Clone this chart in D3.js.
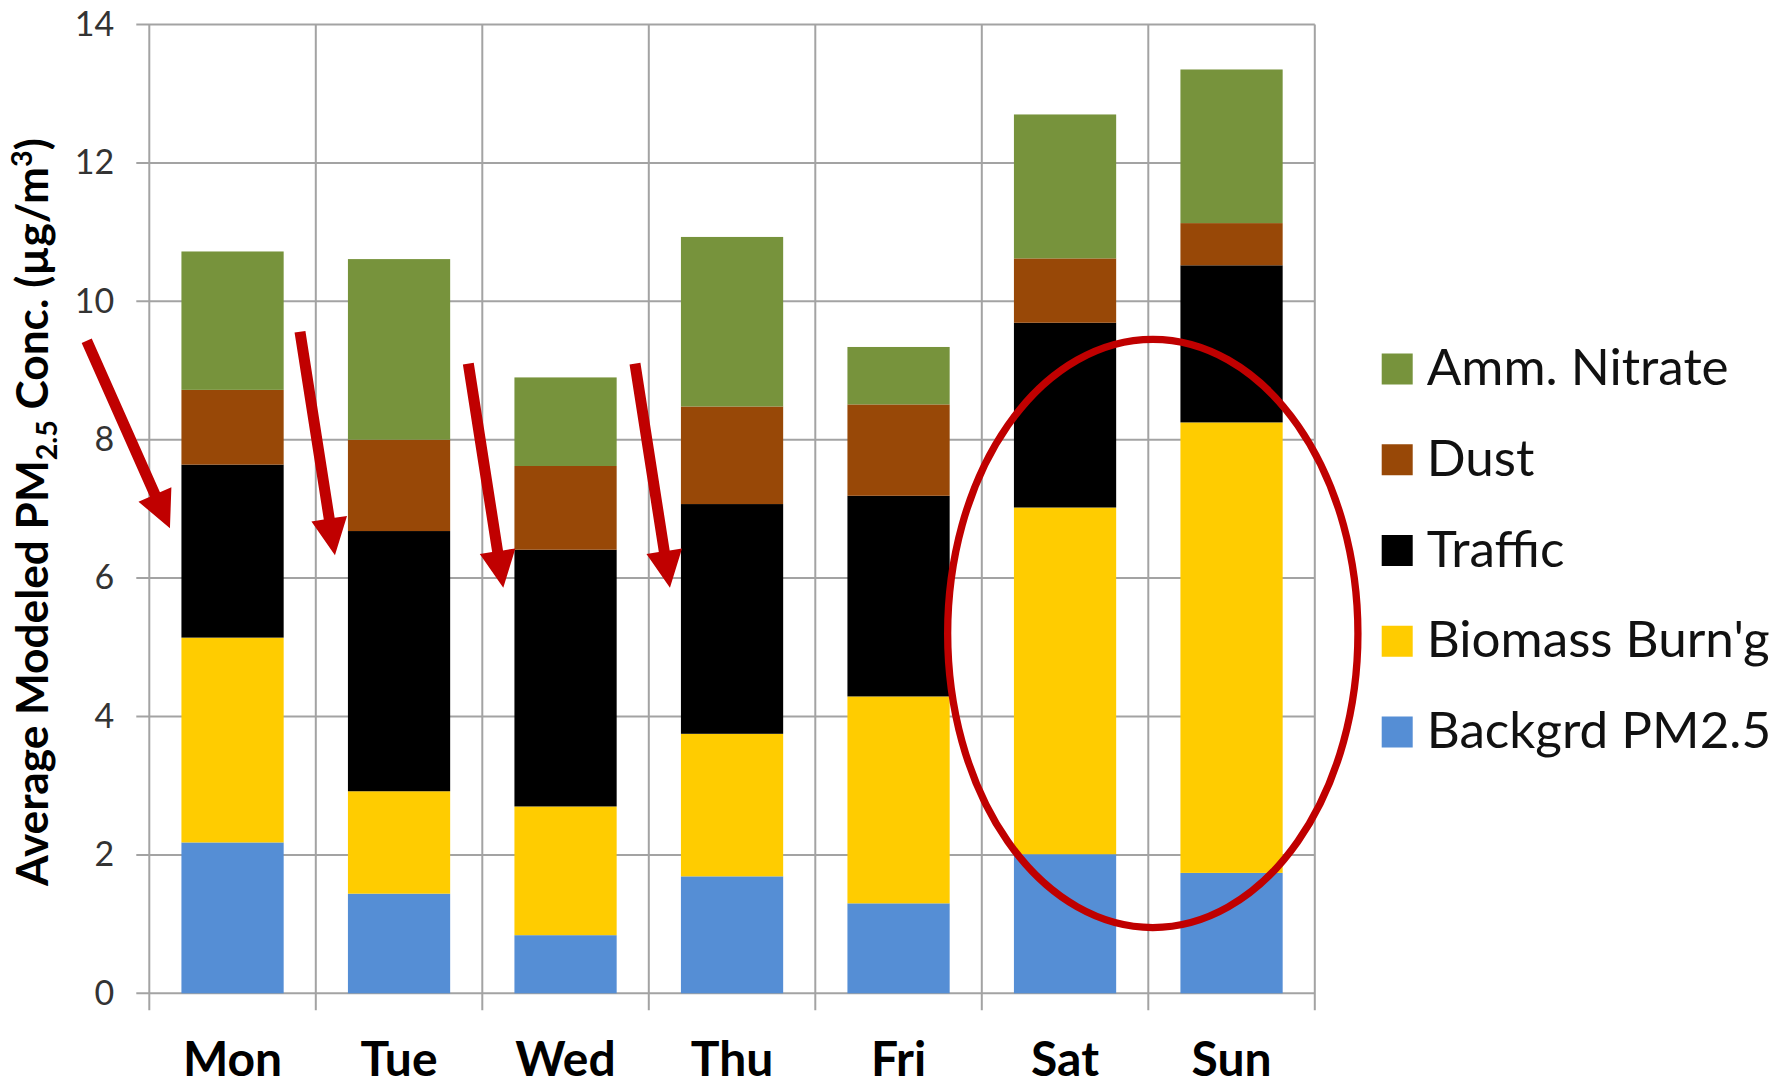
<!DOCTYPE html>
<html><head><meta charset="utf-8">
<script src="https://cdn.jsdelivr.net/npm/d3@7"></script>
<style>
body{margin:0;background:#fff}
svg{display:block}
text{font-family:Lato,"Open Sans","DejaVu Sans",sans-serif}
</style>
</head><body>
<svg id="chart" width="1791" height="1086"></svg>
<script>
// ---- data ----
const days = ["Mon","Tue","Wed","Thu","Fri","Sat","Sun"];
const seriesNames = ["Backgrd PM2.5","Biomass Burn'g","Traffic","Dust","Amm. Nitrate"];
const backgrd    = [2.18,1.44,0.84,1.69,1.30,2.01,1.74];
const biomass    = [2.96,1.48,1.86,2.06,2.99,5.01,6.51];
const traffic    = [2.50,3.76,3.71,3.32,2.90,2.67,2.27];
const dust       = [1.08,1.32,1.21,1.41,1.32,0.93,0.61];
const ammNitrate = [2.00,2.61,1.28,2.45,0.83,2.08,2.22];
const yTicks = [0,2,4,6,8,10,12,14];
// annotation arrows: day index, tail (band offset, value), tip (band offset, value)
const arrowDays  = [0,1,2,3];
const arrowTailB = [-0.376,-0.095,-0.084,-0.083];
const arrowTailV = [9.43,9.56,9.10,9.10];
const arrowTipB  = [0.124,0.115,0.126,0.127];
const arrowTipV  = [6.72,6.33,5.86,5.86];

(function(){
// ---- styles ----
const colors = {"Backgrd PM2.5":"#558ED5","Biomass Burn'g":"#FFCC00","Traffic":"#000000","Dust":"#984807","Amm. Nitrate":"#77933C"};
const gridColor = "#a3a3a3";
const red = "#C00000";

const seriesValues = [backgrd, biomass, traffic, dust, ammNitrate];
const table = days.map((d,i)=>{
  const row = {day:d};
  seriesNames.forEach((s,k)=>row[s]=seriesValues[k][i]);
  return row;
});

const svg = d3.select("#chart");
const pL = 149.3, pR = 1314.8, pT = 24.5, pB = 993.3;

const x = d3.scaleBand().domain(days).range([pL,pR]).paddingInner(0.386).paddingOuter(0.193);
const y = d3.scaleLinear().domain([0,14]).range([pB, pT]);
const step = x.step();
const bandStart = d => x(d) - (step - x.bandwidth())/2;

// gridlines (horizontal) with left tick marks
svg.append("g").selectAll("line").data(yTicks).join("line")
  .attr("x1", pL-13).attr("x2", pR)
  .attr("y1", d=>y(d)).attr("y2", d=>y(d))
  .attr("stroke", gridColor).attr("stroke-width", 2);

// vertical gridlines at category boundaries (with tick marks below axis)
const bounds = d3.range(days.length+1).map(i=> pL + i*step);
svg.append("g").selectAll("line").data(bounds).join("line")
  .attr("x1", d=>d).attr("x2", d=>d)
  .attr("y1", y(14)).attr("y2", y(0)+17)
  .attr("stroke", gridColor).attr("stroke-width", 2);

// y axis labels
const yAxis = svg.append("g").attr("transform",`translate(${pL},0)`)
  .call(d3.axisLeft(y).tickValues(yTicks).tickSize(0).tickPadding(35).tickFormat(d3.format("d")));
yAxis.select(".domain").remove();
yAxis.selectAll("text").attr("font-size",34).attr("fill","#333")
  .style("font-family","Lato,'Open Sans',sans-serif");

// stacked bars
const stack = d3.stack().keys(seriesNames)(table);
svg.append("g").selectAll("g").data(stack).join("g")
  .attr("fill", s=>colors[s.key])
  .selectAll("rect").data(s=>s).join("rect")
  .attr("x", d=>x(d.data.day))
  .attr("width", x.bandwidth())
  .attr("y", d=>y(d[1]))
  .attr("height", d=>y(d[0])-y(d[1]));

// x labels
svg.append("g").selectAll("text").data(days).join("text")
  .attr("x", d=>x(d)+x.bandwidth()/2)
  .attr("y", 1076)
  .attr("text-anchor","middle")
  .attr("font-weight","bold")
  .attr("font-size",48)
  .attr("fill","#000")
  .text(d=>d);

// y title
const title = svg.append("text")
  .attr("transform","translate(48,512) rotate(-90)")
  .attr("text-anchor","middle")
  .attr("font-weight","bold")
  .attr("font-size",40)
  .attr("fill","#000");
title.append("tspan").text("Average Modeled PM");
title.append("tspan").attr("font-size","0.65em").attr("dy","0.3em").text("2.5");
title.append("tspan").attr("dy","-0.2em").text(" Conc. (µg/m");
title.append("tspan").attr("font-size","0.65em").attr("dy","-0.55em").text("3");
title.append("tspan").attr("dy","0.36em").text(")");
{
  const w = title.node().getComputedTextLength();
  if (w>0){ title.attr("font-size", Math.max(34, Math.min(40*748/w, 48))); }
}

// legend
const legendNames = seriesNames.slice().reverse();
const rows = svg.append("g").selectAll("g").data(legendNames).join("g")
  .attr("transform",(d,i)=>`translate(1381.7,${369 + i*90.75})`);
rows.append("rect").attr("x",0).attr("y",-15.5).attr("width",31).attr("height",31)
  .attr("fill", d=>colors[d]);
const ltexts = rows.append("text").attr("x",45).attr("y",16)
  .attr("font-size",40).attr("fill","#111").text(d=>d);
{
  const n = ltexts.filter(d=>d==="Amm. Nitrate").node();
  const w = n.getComputedTextLength();
  if (w>0) ltexts.attr("font-size", 40*302/w);
}

// annotations: arrows
const ann = svg.append("g");
const arrowData = arrowDays.map((di,i)=>{
  const bs = bandStart(days[di]);
  return {x1: bs + arrowTailB[i]*step, y1: y(arrowTailV[i]), x2: bs + arrowTipB[i]*step, y2: y(arrowTipV[i])};
});
function arrowPath(a){
  const dx=a.x2-a.x1, dy=a.y2-a.y1, L=Math.hypot(dx,dy);
  const ux=dx/L, uy=dy/L, px=-uy, py=ux;
  const sw=5.5, hw=18, hl=37;
  const nx=a.x2-ux*hl, ny=a.y2-uy*hl;
  const pts=[[a.x1+px*sw,a.y1+py*sw],[nx+px*sw,ny+py*sw],[nx+px*hw,ny+py*hw],[a.x2,a.y2],
             [nx-px*hw,ny-py*hw],[nx-px*sw,ny-py*sw],[a.x1-px*sw,a.y1-py*sw]];
  return "M"+pts.map(p=>p.join(",")).join("L")+"Z";
}
ann.selectAll("path").data(arrowData).join("path")
  .attr("d", arrowPath).attr("fill", red);

// annotation ellipse around weekend
ann.append("ellipse")
  .attr("cx", pL + 6.027*step)
  .attr("cy", y(5.2))
  .attr("rx", 1.232*step)
  .attr("ry", y(0)-y(4.25))
  .attr("fill","none").attr("stroke",red).attr("stroke-width",7.3);
})();
</script>
</body></html>
